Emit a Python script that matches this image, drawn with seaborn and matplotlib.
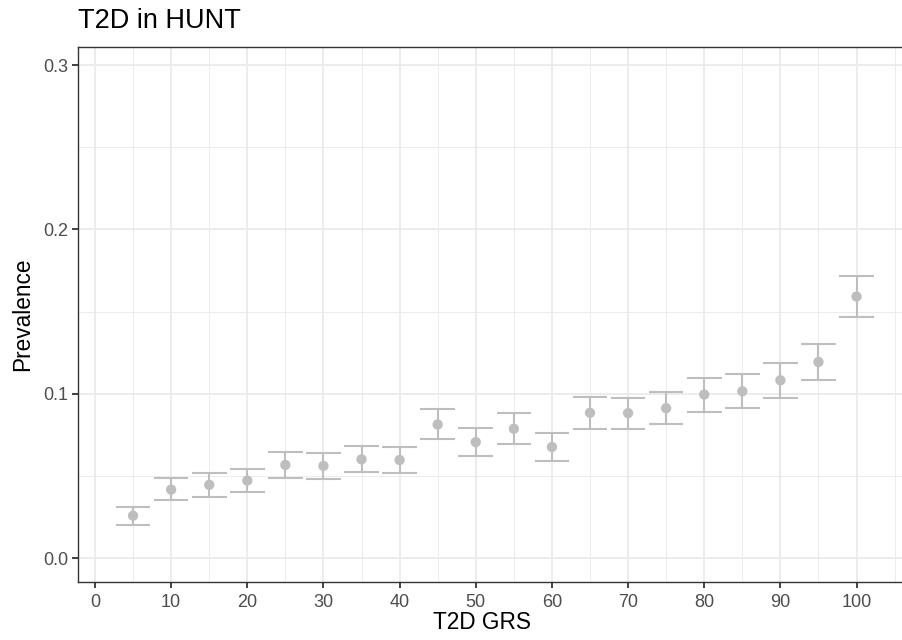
import matplotlib
matplotlib.use("Agg")
import matplotlib.pyplot as plt
import seaborn as sns
import pandas as pd
import numpy as np

# Genetic risk score percentile bins and T2D prevalence with 95% CI
grs = [5, 10, 15, 20, 25, 30, 35, 40, 45, 50,
       55, 60, 65, 70, 75, 80, 85, 90, 95, 100]
prevalence = [0.0259, 0.0418, 0.0447, 0.0473, 0.0568, 0.0562, 0.0602, 0.0598, 0.0814, 0.0707,
              0.0788, 0.0677, 0.0885, 0.0883, 0.0913, 0.0996, 0.1016, 0.1083, 0.1194, 0.1592]
lower = [0.0204, 0.0352, 0.0376, 0.0402, 0.0489, 0.0483, 0.0523, 0.0517, 0.0723, 0.0620,
         0.0695, 0.0592, 0.0788, 0.0786, 0.0814, 0.0893, 0.0913, 0.0976, 0.1083, 0.1467]
upper = [0.0311, 0.0487, 0.0517, 0.0543, 0.0644, 0.0638, 0.0685, 0.0677, 0.0907, 0.0794,
         0.0881, 0.0762, 0.0982, 0.0978, 0.1010, 0.1097, 0.1119, 0.1186, 0.1301, 0.1715]

x_ticks = [0, 10, 20, 30, 40, 50, 60, 70, 80, 90, 100]
y_ticks = [0.0, 0.1, 0.2, 0.3]
y_tick_labels = ["0.0", "0.1", "0.2", "0.3"]

df = pd.DataFrame({"grs": grs, "prevalence": prevalence, "lower": lower, "upper": upper})

sns.set_theme(style="white")
plt.rcParams["font.family"] = ["Liberation Sans", "DejaVu Sans"]

fig = plt.figure(figsize=(9.03, 6.40), dpi=100)
ax_left, ax_right, ax_top, ax_bottom = 78.3, 903.0, 46.5, 582.0
ax = fig.add_axes([ax_left / 903, 1 - ax_bottom / 640,
                   (ax_right - ax_left) / 903, (ax_bottom - ax_top) / 640])

point_col = "#BEBEBE"
cap_half = 2.27

# Confidence intervals: vertical stems plus horizontal caps
ax.vlines(df["grs"], df["lower"], df["upper"], color=point_col, lw=1.5, zorder=3)
ax.hlines(df["lower"], df["grs"] - cap_half, df["grs"] + cap_half, color=point_col, lw=1.5, zorder=3)
ax.hlines(df["upper"], df["grs"] - cap_half, df["grs"] + cap_half, color=point_col, lw=1.5, zorder=3)

sns.scatterplot(data=df, x="grs", y="prevalence", ax=ax, color=point_col,
                s=55, edgecolor="none", linewidth=0, zorder=4, legend=False)

ax.set_xlim(-2.19, 106.1)
ax.set_ylim(-0.0144, 0.3113)
ax.set_xticks(x_ticks)
ax.set_xticklabels([str(t) for t in x_ticks])
ax.set_yticks(y_ticks)
ax.set_yticklabels(y_tick_labels)
ax.set_xticks(np.arange(5, 110, 10), minor=True)
ax.set_yticks([0.05, 0.15, 0.25], minor=True)

ax.grid(which="major", color="#EBEBEB", lw=1.3, zorder=0)
ax.grid(which="minor", color="#EBEBEB", lw=0.65, zorder=0)
ax.set_axisbelow(True)

for side in ["left", "bottom", "top"]:
    ax.spines[side].set_color("#333333")
    ax.spines[side].set_linewidth(1.0)
ax.spines["right"].set_visible(False)

ax.tick_params(axis="both", which="major", length=4.3, width=1.3, color="#333333",
               labelsize=13, labelcolor="#4D4D4D", pad=3)
ax.tick_params(axis="x", which="major", pad=4.2)
ax.tick_params(axis="both", which="minor", length=0)
ax.tick_params(axis="x", bottom=True)
ax.tick_params(axis="y", left=True)

ax_w = ax_right - ax_left
ax.set_xlabel("T2D GRS", fontsize=16.3, color="black")
ax.set_ylabel("Prevalence", fontsize=16.3, color="black")
ax.xaxis.set_label_coords((482.5 - ax_left) / ax_w, -0.054)
ax.yaxis.set_label_coords(-44.2 / ax_w, 0.5)
ax.set_title("T2D in HUNT", loc="left", fontsize=19.5, color="black", pad=13)

fig.savefig("out.png", dpi=100)
